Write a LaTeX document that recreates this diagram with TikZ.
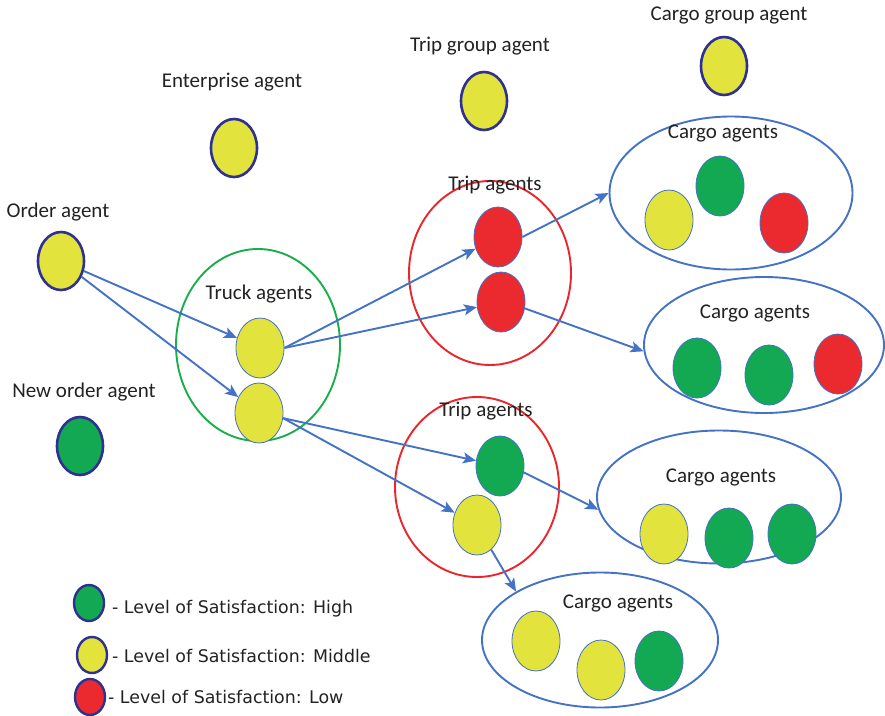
\documentclass[tikz,border=0pt]{standalone}
\usepackage{fontspec}
\setmainfont{Carlito}
\newfontfamily\legendfont{DejaVu Sans}
\usetikzlibrary{shapes.geometric,arrows.meta}
\definecolor{agentyellow}{HTML}{E3E33D}
\definecolor{agentgreen}{HTML}{13A852}
\definecolor{agentred}{HTML}{EA2A2E}
\definecolor{navyline}{HTML}{2E3192}
\definecolor{linkblue}{HTML}{4472C4}
\definecolor{truckgreen}{HTML}{1AAE4A}
\definecolor{tripred}{HTML}{E8262B}
\definecolor{labelgray}{HTML}{222222}

\tikzset{
  agent/.style={ellipse, draw=navyline, line width=2.6pt, inner sep=0pt,
    minimum width=46pt, minimum height=58pt},
  member/.style={ellipse, draw=linkblue, line width=0.8pt, inner sep=0pt,
    minimum width=48pt, minimum height=60pt},
  keyagent/.style={ellipse, draw=navyline, line width=2.4pt, inner sep=0pt,
    minimum width=30pt, minimum height=36pt},
  group/.style={ellipse, line width=1.9pt, inner sep=0pt},
  lbl/.style={text=labelgray, font=\fontsize{21}{24}\selectfont, inner sep=0pt},
  keytext/.style={text=labelgray, font=\legendfont\fontsize{17.4}{20}\selectfont,
    anchor=west, inner sep=0pt},
  link/.style={draw=linkblue, line width=1.9pt,
    -{Stealth[length=13pt,width=11pt,inset=3pt]}}
}

\begin{document}
\begin{tikzpicture}[x=1pt,y=-1pt]
  \useasboundingbox (0,0) rectangle (885,715);

  % single agents
  \node[agent, fill=agentyellow] (ent) at (234,148) {};
  \node[lbl] (entlbl) at (232,82) {Enterprise agent};
  \node[agent, fill=agentyellow] (tripgrp) at (484,101) {};
  \node[lbl] (tripgrplbl) at (480,46) {Trip group agent};
  \node[agent, fill=agentyellow] (cargogrp) at (724,66) {};
  \node[lbl] (cargogrplbl) at (729,15) {Cargo group agent};
  \node[agent, fill=agentyellow] (ord) at (61,261) {};
  \node[lbl] (ordlbl) at (58,212) {Order agent};
  \node[agent, fill=agentgreen] (neword) at (80,446) {};
  \node[lbl] (newordlbl) at (84,392) {New order agent};

  % truck agents
  \node[group, draw=truckgreen, minimum width=164pt, minimum height=192pt] (truckgrp) at (258,345) {};
  \node[lbl] (trucklbl) at (259,294) {Truck agents};
  \node[member, fill=agentyellow] (tr1) at (260,348) {};
  \node[member, fill=agentyellow] (tr2) at (259,413) {};

  % trip agents
  \node[group, draw=tripred, minimum width=162pt, minimum height=184pt] (tripA) at (490,273) {};
  \node[lbl] (tripAlbl) at (495,185) {Trip agents};
  \node[member, fill=agentred] (ra1) at (498,237) {};
  \node[member, fill=agentred] (ra2) at (501,302) {};

  \node[group, draw=tripred, minimum width=164pt, minimum height=180pt] (tripB) at (477,487) {};
  \node[lbl] (tripBlbl) at (486,411) {Trip agents};
  \node[member, fill=agentgreen] (rb1) at (500,466) {};
  \node[member, fill=agentyellow] (rb2) at (477,525) {};

  % cargo agents
  \node[group, draw=linkblue, minimum width=243pt, minimum height=153pt] (cargoA) at (731,193) {};
  \node[lbl] (cargoAlbl) at (723,133) {Cargo agents};
  \node[member, fill=agentyellow] (ca1) at (669,220) {};
  \node[member, fill=agentgreen] (ca2) at (720,186) {};
  \node[member, fill=agentred] (ca3) at (784,223) {};

  \node[group, draw=linkblue, minimum width=240pt, minimum height=136pt] (cargoB) at (764,345) {};
  \node[lbl] (cargoBlbl) at (755,313) {Cargo agents};
  \node[member, fill=agentgreen] (cb1) at (697,368) {};
  \node[member, fill=agentgreen] (cb2) at (769,375) {};
  \node[member, fill=agentred] (cb3) at (838,364) {};

  \node[group, draw=linkblue, minimum width=244pt, minimum height=133pt] (cargoC) at (719,497) {};
  \node[lbl] (cargoClbl) at (721,477) {Cargo agents};
  \node[member, fill=agentyellow] (cc1) at (664,534) {};
  \node[member, fill=agentgreen] (cc2) at (729,538) {};
  \node[member, fill=agentgreen] (cc3) at (792,534) {};

  \node[group, draw=linkblue, minimum width=236pt, minimum height=135pt] (cargoD) at (600,640) {};
  \node[lbl] (cargoDlbl) at (618,603) {Cargo agents};
  \node[member, fill=agentyellow] (cd1) at (536,641) {};
  \node[member, fill=agentyellow] (cd2) at (601,670) {};
  \node[member, fill=agentgreen] (cd3) at (659,661) {};

  % links
  \draw[link] (ord) -- (tr1);
  \draw[link] (ord) -- (tr2);
  \draw[link] (tr1.east) -- (ra1);
  \draw[link] (tr1.east) -- (ra2);
  \draw[link] (tr2.-12) -- (rb1);
  \draw[link] (tr2.-12) -- (rb2);
  \draw[link] (ra1.east) -- (cargoA.west);
  \draw[link] (ra2.-15) -- (cargoB.183);
  \draw[link] (rb1.-15) -- (cargoC.186);
  \draw[link] (rb2.-60) -- (cargoD.150);

  % legend
  \node[keyagent, fill=agentgreen] (keyhigh) at (89,603) {};
  \node[keytext] (keyhightxt) at (112,609) {- Level of Satisfaction: High};
  \node[keyagent, fill=agentyellow] (keymid) at (92,655) {};
  \node[keytext] (keymidtxt) at (112,656) {- Level of Satisfaction: Middle};
  \node[keyagent, fill=agentred] (keylow) at (90,697) {};
  \node[keytext] (keylowtxt) at (108,697) {- Level of Satisfaction: Low};
\end{tikzpicture}
\end{document}
